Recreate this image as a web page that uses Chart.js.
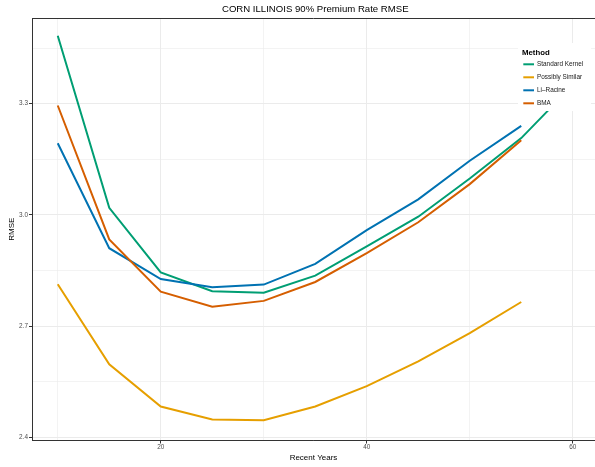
<!DOCTYPE html>
<html>
<head>
<meta charset="utf-8">
<script src="https://cdn.jsdelivr.net/npm/chart.js@4"></script>
<style>
  html, body { margin: 0; padding: 0; background: #fff; }
</style>
</head>
<body>
<canvas id="rmseChart" width="595" height="467"></canvas>
<script>
// data
const years = [10, 15, 20, 25, 30, 35, 40, 45, 50, 55]
const yearsKernel = [10, 15, 20, 25, 30, 35, 40, 45, 50, 55, 60]
const standardKernel = [3.483, 3.019, 2.845, 2.794, 2.790, 2.836, 2.915, 2.995, 3.098, 3.207, 3.350]
const possiblySimilar = [2.813, 2.597, 2.483, 2.448, 2.446, 2.483, 2.538, 2.605, 2.681, 2.765]
const liRacine = [3.193, 2.910, 2.827, 2.805, 2.812, 2.868, 2.959, 3.042, 3.146, 3.240]
const bma = [3.295, 2.934, 2.793, 2.752, 2.768, 2.819, 2.897, 2.980, 3.083, 3.201]
const methodNames = ['Standard Kernel', 'Possibly Similar', 'Li–Racine', 'BMA']
const methodColors = ['#009E73', '#E69F00', '#0072B2', '#D55E00']

const xMajor = [20, 40, 60]
const xGrid = [10, 20, 30, 40, 50, 60]
const yMajor = [2.4, 2.7, 3.0, 3.3]
const yGrid = [2.4, 2.55, 2.7, 2.85, 3.0, 3.15, 3.3, 3.45]

const FONT = '"Liberation Sans", Arial, sans-serif'
const isMajor = (list, v) => list.some(m => Math.abs(m - v) < 1e-6)
const toPoints = (xs, ys) => ys.map((y, i) => ({ x: xs[i], y }))

const series = [
  toPoints(yearsKernel, standardKernel),
  toPoints(years, possiblySimilar),
  toPoints(years, liRacine),
  toPoints(years, bma)
]

// ggplot draws later levels on top
const datasets = series.map((pts, i) => ({
  label: methodNames[i],
  data: pts,
  borderColor: methodColors[i],
  backgroundColor: methodColors[i],
  borderWidth: 2,
  pointRadius: 0,
  fill: false,
  tension: 0,
  order: series.length - i
}))

const panelTop = {
  id: 'panelTop',
  beforeDatasetsDraw: chart => {
    const ctx = chart.ctx
    const a = chart.chartArea
    ctx.save()
    ctx.strokeStyle = '#333333'
    ctx.lineWidth = 1
    ctx.beginPath()
    ctx.moveTo(a.left, a.top + 0.5)
    ctx.lineTo(a.right, a.top + 0.5)
    ctx.stroke()
    ctx.restore()
  }
}

const plotTitle = {
  id: 'plotTitle',
  afterDraw: chart => {
    const ctx = chart.ctx
    const xs = chart.scales.x
    const mid = (xs.getPixelForValue(7.5) + xs.getPixelForValue(62.5)) / 2
    ctx.save()
    ctx.font = '9.6px ' + FONT
    ctx.fillStyle = '#000000'
    ctx.textAlign = 'center'
    ctx.textBaseline = 'middle'
    ctx.fillText('CORN ILLINOIS 90% Premium Rate RMSE', mid, 9)
    ctx.restore()
  }
}

const methodLegend = {
  id: 'methodLegend',
  afterDatasetsDraw: chart => {
    const ctx = chart.ctx
    const left = 518
    const top = 43
    ctx.save()
    ctx.fillStyle = '#ffffff'
    ctx.fillRect(left, top, 73, 68)
    ctx.textBaseline = 'middle'
    ctx.textAlign = 'left'
    ctx.fillStyle = '#000000'
    ctx.font = 'bold 7.8px ' + FONT
    ctx.fillText('Method', left + 4, top + 9.7)
    ctx.font = '6.4px ' + FONT
    chart.data.datasets.forEach((ds, i) => {
      const y = top + 21.3 + i * 13
      ctx.strokeStyle = ds.borderColor
      ctx.lineWidth = 2
      ctx.beginPath()
      ctx.moveTo(left + 5.3, y)
      ctx.lineTo(left + 16, y)
      ctx.stroke()
      ctx.fillStyle = '#1a1a1a'
      ctx.fillText(ds.label, left + 19, y)
    })
    ctx.restore()
  }
}

new Chart(document.getElementById('rmseChart').getContext('2d'), {
  type: 'line',
  data: { datasets },
  options: {
    responsive: false,
    animation: false,
    devicePixelRatio: 1,
    layout: { padding: { top: 18, right: 0, bottom: 0, left: 0 } },
    plugins: {
      legend: { display: false },
      title: { display: false },
      tooltip: { enabled: false }
    },
    scales: {
      x: {
        type: 'linear',
        min: 7.5,
        max: 62.16,
        afterBuildTicks: scale => { scale.ticks = xGrid.map(v => ({ value: v })) },
        afterFit: scale => { scale.height = 26.5 },
        grid: {
          color: '#ebebeb',
          lineWidth: ctx => (isMajor(xMajor, ctx.tick.value) ? 1 : 0.6),
          tickColor: ctx => (isMajor(xMajor, ctx.tick.value) ? '#333333' : 'rgba(0,0,0,0)'),
          tickLength: 3,
          tickWidth: 1
        },
        border: { color: '#333333', width: 1 },
        ticks: {
          autoSkip: false,
          maxRotation: 0,
          padding: 0,
          color: '#4d4d4d',
          font: { family: FONT, size: 6.4 },
          callback: v => (isMajor(xMajor, v) ? String(v) : '')
        },
        title: {
          display: true,
          text: 'Recent Years',
          color: '#000000',
          font: { family: FONT, size: 8 },
          padding: { top: 1, bottom: 4.2 }
        }
      },
      y: {
        type: 'linear',
        min: 2.3914,
        max: 3.531,
        afterBuildTicks: scale => { scale.ticks = yGrid.map(v => ({ value: v })) },
        afterFit: scale => { scale.width = 32 },
        grid: {
          color: '#ebebeb',
          lineWidth: ctx => (isMajor(yMajor, ctx.tick.value) ? 1 : 0.6),
          tickColor: ctx => (isMajor(yMajor, ctx.tick.value) ? '#333333' : 'rgba(0,0,0,0)'),
          tickLength: 3,
          tickWidth: 1
        },
        border: { color: '#333333', width: 1 },
        ticks: {
          autoSkip: false,
          padding: 1,
          color: '#4d4d4d',
          font: { family: FONT, size: 6.4 },
          callback: v => (isMajor(yMajor, v) ? v.toFixed(1) : '')
        },
        title: {
          display: true,
          text: 'RMSE',
          color: '#000000',
          font: { family: FONT, size: 8 },
          padding: { top: 7.2, bottom: 0 }
        }
      }
    }
  },
  plugins: [panelTop, plotTitle, methodLegend]
})
</script>
</body>
</html>
